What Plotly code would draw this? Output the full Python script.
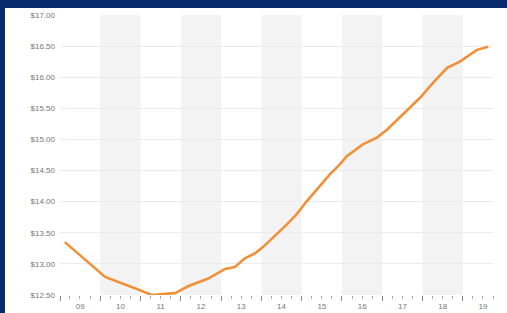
import plotly.graph_objects as go

dates = ["2009-02-14", "2010-02-14", "2010-11-10", "2011-04-12", "2011-06-24",
         "2011-11-10", "2012-03-06", "2012-05-26", "2012-09-01", "2013-02-06",
         "2013-05-05", "2013-08-04", "2013-11-03", "2014-01-15", "2014-05-22",
         "2014-08-22", "2014-11-17", "2015-02-17", "2015-06-14", "2015-09-13",
         "2015-12-13", "2016-02-14", "2016-07-08", "2016-11-13", "2017-02-14",
         "2017-05-16", "2017-09-09", "2017-12-09", "2018-04-05", "2018-08-11",
         "2018-12-05", "2019-05-08", "2019-08-19"]
values = [13.35, 12.79, 12.61, 12.50, 12.51,
          12.53, 12.64, 12.70, 12.76, 12.92,
          12.95, 13.09, 13.17, 13.27, 13.48,
          13.64, 13.80, 14.01, 14.25, 14.44,
          14.60, 14.73, 14.92, 15.03, 15.16,
          15.32, 15.51, 15.67, 15.91, 16.15,
          16.25, 16.44, 16.49]
shaded_years = [2010, 2012, 2014, 2016, 2018]
x_start, x_end = "2009-01-01", "2019-10-01"
y_min, y_max = 12.5, 17.0

W, H = 507, 313
ML, MR, MT, MB = 60, 14, 15, 18
pw, ph = W - ML - MR, H - MT - MB
BLUE = "#0a2a6e"

fig = go.Figure()
fig.add_trace(go.Scatter(x=dates, y=values, mode="lines",
                         line=dict(color="#f0913a", width=2.6), hoverinfo="skip"))

shapes = []
for yr in shaded_years:
    shapes.append(dict(type="rect", xref="x", yref="paper", x0=f"{yr}-01-01", x1=f"{yr+1}-01-01",
                       y0=0, y1=1, fillcolor="#f3f3f3", line=dict(width=0), layer="below"))
# blue frame (top strip and left strip)
def px_x(p):
    return (p - ML) / pw
def px_y(p):
    return (H - MB - p) / ph
shapes.append(dict(type="rect", xref="paper", yref="paper", x0=px_x(0), x1=px_x(W), y0=px_y(8), y1=px_y(0),
                   fillcolor=BLUE, line=dict(width=0), layer="above"))
shapes.append(dict(type="rect", xref="paper", yref="paper", x0=px_x(0), x1=px_x(5), y0=px_y(H), y1=px_y(0),
                   fillcolor=BLUE, line=dict(width=0), layer="above"))

fig.update_layout(
    width=W, height=H,
    margin=dict(l=ML, r=MR, t=MT, b=MB, pad=0, autoexpand=False),
    paper_bgcolor="white", plot_bgcolor="white",
    showlegend=False,
    shapes=shapes,
    font=dict(family="Liberation Sans, Arial, sans-serif", size=8, color="#777777"),
    xaxis=dict(type="date", range=[x_start, x_end], dtick="M12", tick0="2009-01-01",
               tickformat="%y", ticklabelmode="period", showgrid=False, zeroline=False,
               automargin=False, ticklabelstandoff=-2,
               ticks="outside", ticklen=5, tickwidth=1, tickcolor="#888888",
               minor=dict(dtick="M3", ticks="outside", ticklen=3, tickwidth=1, tickcolor="#aaaaaa",
                          showgrid=False),
               showline=False, tickfont=dict(size=8, color="#777777")),
    yaxis=dict(range=[y_min, y_max], dtick=0.5, tickformat="$.2f", showgrid=True,
               automargin=False,
               gridcolor="#ebebeb", gridwidth=1, zeroline=False, showline=False,
               ticks="", ticklabelstandoff=4, tickfont=dict(size=8, color="#777777")),
)
fig.write_html("out.html", config={"displayModeBar": False},
               post_script="document.body.style.margin='0';")
